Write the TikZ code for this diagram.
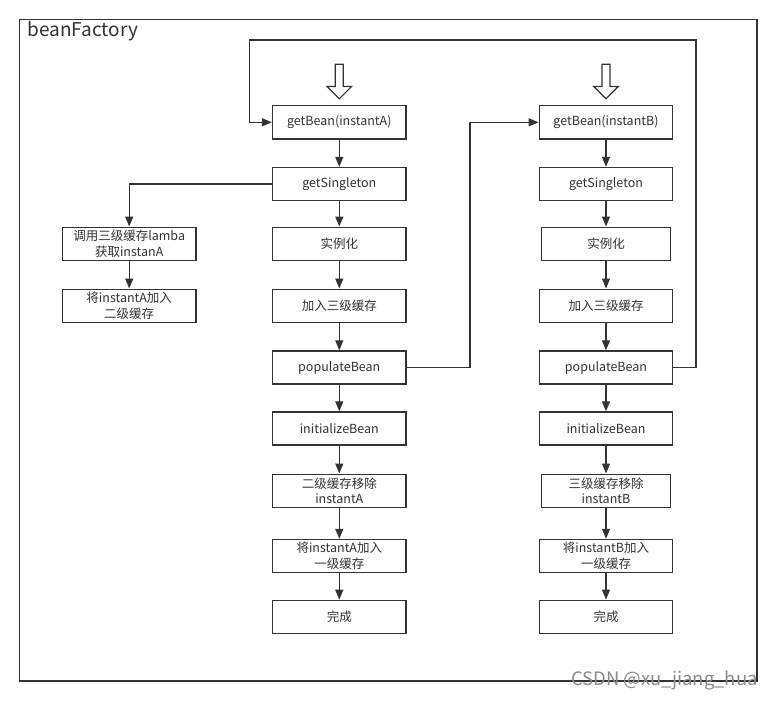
\documentclass[tikz,border=0pt]{standalone}
\usepackage{fontspec}
\setmainfont{Noto Sans CJK SC}
\usetikzlibrary{arrows.meta}
\definecolor{ln}{HTML}{333333}
\begin{document}
\begin{tikzpicture}[x=1pt,y=-1pt,
  box/.style={draw=ln, line width=1.4pt, minimum width=133.5pt, minimum height=33pt, inner sep=0pt, align=center, font=\fontsize{12.5}{15.5}\selectfont, text=ln},
  arr/.style={draw=ln, line width=1.3pt, -{Triangle[length=10pt,width=8pt]}},
  hollow/.style={draw=ln, line width=1.2pt, fill=white, line join=miter}]
\useasboundingbox (0,0) rectangle (777,701);
\fill[white] (0,0) rectangle (777,701);
\draw[ln, line width=1.3pt] (19.5,19.5) rectangle (757,681);
\node[anchor=west, font=\fontsize{19}{21}\selectfont, text=ln, inner sep=0pt] (title) at (27.5,31.5) {beanFactory};

% column A
\node[box] (a1) at (339.3,122.3) {getBean(instantA)};
\node[box] (a2) at (339.3,184) {getSingleton};
\node[box] (a3) at (339.3,243.7) {实例化};
\node[box] (a4) at (339.3,305.7) {加入三级缓存};
\node[box] (a5) at (339.3,367.5) {populateBean};
\node[box] (a6) at (339.3,428.5) {initializeBean};
\node[box] (a7) at (339.3,490.7) {二级缓存移除\\instantA};
\node[box] (a8) at (339.3,556) {将instantA加入\\一级缓存};
\node[box] (a9) at (339.3,616.8) {完成};

% left branch
\node[box] (l1) at (129.2,243.7) {调用三级缓存lamba\\获取instanA};
\node[box] (l2) at (129.2,305.7) {将instantA加入\\二级缓存};

% column B
\node[box] (b1) at (606,122.3) {getBean(instantB)};
\node[box] (b2) at (606,184) {getSingleton};
\node[box, minimum width=129pt] (b3) at (606,243.7) {实例化};
\node[box] (b4) at (606,305.7) {加入三级缓存};
\node[box] (b5) at (606,367.5) {populateBean};
\node[box] (b6) at (606,428.5) {initializeBean};
\node[box, minimum width=129pt] (b7) at (606,490.7) {三级缓存移除\\instantB};
\node[box] (b8) at (606,556) {将instantB加入\\一级缓存};
\node[box] (b9) at (606,616.8) {完成};

% hollow entry arrows
\draw[hollow] (335.3,64.3) -- (343.3,64.3) -- (343.3,86.6) -- (351.5,86.6) -- (339.3,98.8) -- (327.1,86.6) -- (335.3,86.6) -- cycle;
\draw[hollow] (602,64.3) -- (610,64.3) -- (610,86.6) -- (618.2,86.6) -- (606,98.8) -- (593.8,86.6) -- (602,86.6) -- cycle;

% vertical arrows
\foreach \c in {a,b}{
  \draw[arr] (\c1.south) -- (\c2.north);
  \draw[arr] (\c2.south) -- (\c3.north);
  \draw[arr] (\c3.south) -- (\c4.north);
  \draw[arr] (\c4.south) -- (\c5.north);
  \draw[arr] (\c5.south) -- (\c6.north);
  \draw[arr] (\c6.south) -- (\c7.north);
  \draw[arr] (\c7.south) -- (\c8.north);
  \draw[arr] (\c8.south) -- (\c9.north);
}
\draw[arr] (a2.west) -| (l1.north);
\draw[arr] (l1.south) -- (l2.north);

% cross links
\coordinate (jA) at (470,250);
\coordinate (jB) at (696,40);
\coordinate (jC) at (249.5,40);
\draw[arr] (a5.east) -| (jA) |- (b1.west);
\draw[arr] (b5.east) -| (jB) -| (jC) |- (a1.west);

% watermark
\node[anchor=east, text=black!45, font=\fontsize{18.5}{19}\selectfont, inner sep=0pt] (wm) at (758,680) {CSDN @xu\_jiang\_hua};
\end{tikzpicture}
\end{document}
